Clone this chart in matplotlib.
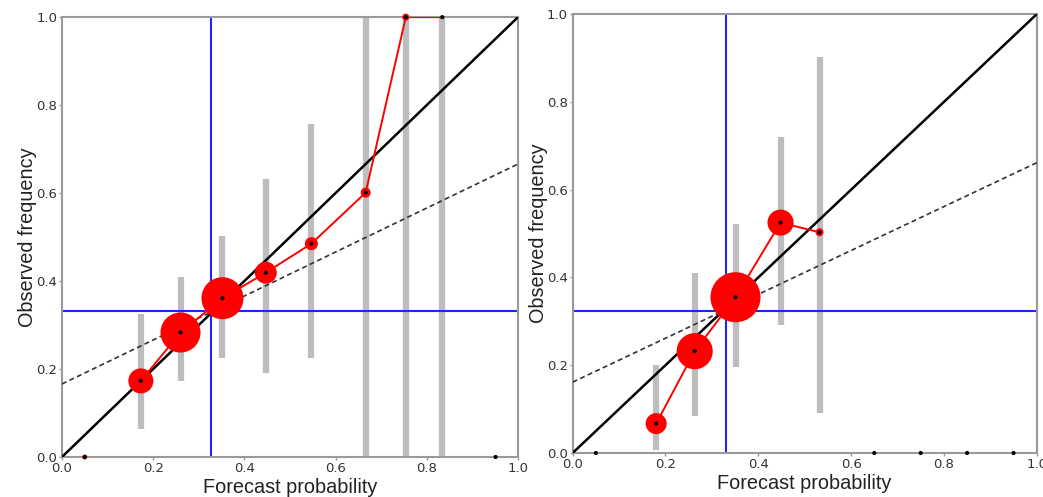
import numpy as np
import matplotlib
matplotlib.use('Agg')
import matplotlib.pyplot as plt

plt.rcParams['font.family'] = ['Liberation Sans', 'DejaVu Sans']

# Left panel: reliability diagram
left_prob = [0.05, 0.173, 0.260, 0.352, 0.447, 0.547, 0.666, 0.754, 0.834, 0.951]
left_obs = [0.0, 0.173, 0.283, 0.361, 0.419, 0.485, 0.601, 1.0, 1.0, 0.0]
left_count = [25, 625, 1600, 1760, 480, 170, 100, 50, 0, 0]
left_lo = [None, 0.064, 0.173, 0.226, 0.192, 0.226, 0.0, 0.0, 0.0, None]
left_hi = [None, 0.326, 0.409, 0.502, 0.631, 0.756, 1.0, 1.0, 1.0, None]
left_line = [1, 2, 3, 4, 5, 6, 7, 8]   # bins joined by the red line
left_clim_x = 0.326
left_clim_y = 0.332

# Right panel
right_prob = [0.05, 0.180, 0.263, 0.351, 0.448, 0.532, 0.65, 0.75, 0.85, 0.95]
right_obs = [0.0, 0.067, 0.232, 0.355, 0.525, 0.503, 0.0, 0.0, 0.0, 0.0]
right_count = [0, 440, 1300, 2500, 680, 64, 0, 0, 0, 0]
right_lo = [None, 0.008, 0.084, 0.195, 0.292, 0.091, None, None, None, None]
right_hi = [None, 0.201, 0.410, 0.522, 0.721, 0.903, None, None, None, None]
right_line = [1, 2, 3, 4, 5]
right_clim_x = 0.330
right_clim_y = 0.323


def reliability(ax, prob, obs, count, lo, hi, line_idx, clim_x, clim_y):
    prob = np.array(prob)
    obs = np.array(obs)
    count = np.array(count, dtype=float)
    # consistency bars
    for p, a, b in zip(prob, lo, hi):
        if a is not None:
            ax.plot([p, p], [a, b], color='#bdbdbd', lw=4.5, solid_capstyle='butt', zorder=1)
    ax.axvline(clim_x, color='#2222ff', lw=1.5, zorder=2)
    ax.axhline(clim_y, color='#2222ff', lw=1.5, zorder=2)
    xx = np.array([0, 1])
    ax.plot(xx, xx, color='black', lw=1.8, zorder=3)
    ax.plot(xx, (xx + clim_y) / 2, color='#333333', lw=1.2, ls=(0, (3, 2)), zorder=3)
    ax.plot(prob[line_idx], obs[line_idx], color='red', lw=1.4, zorder=4)
    has = count > 0
    ax.scatter(prob[has], obs[has], s=count[has] * 0.52, color='red', edgecolors='none',
               zorder=5, clip_on=False)
    ax.scatter(prob, obs, s=9, color='black', edgecolors='none', zorder=6, clip_on=False)

    ax.set_xlim(0, 1)
    ax.set_ylim(0, 1)
    ticks = [0.0, 0.2, 0.4, 0.6, 0.8, 1.0]
    ax.set_xticks(ticks)
    ax.set_yticks(ticks)
    ax.set_xticklabels(['%.1f' % t for t in ticks], family='DejaVu Sans')
    ax.set_yticklabels(['%.1f' % t for t in ticks], family='DejaVu Sans')
    ax.tick_params(length=2, width=1, color='#999999', labelsize=9.5, labelcolor='#333333', pad=1.5)
    for sp in ax.spines.values():
        sp.set_color('#9a9a9a')
        sp.set_linewidth(1.5)
    ax.set_xlabel('Forecast probability', fontsize=14.3, color='#222222', labelpad=2)
    ax.set_ylabel('Observed frequency', fontsize=14.3, color='#222222', labelpad=-1)


fig = plt.figure(figsize=(10.43, 4.97), dpi=100)
ax1 = fig.add_axes([0.0594, 0.0805, 0.4372, 0.885])
ax2 = fig.add_axes([0.549, 0.0885, 0.445, 0.883])

reliability(ax1, left_prob, left_obs, left_count, left_lo, left_hi, left_line,
            left_clim_x, left_clim_y)
reliability(ax2, right_prob, right_obs, right_count, right_lo, right_hi, right_line,
            right_clim_x, right_clim_y)

fig.savefig('out.png', dpi=100)
